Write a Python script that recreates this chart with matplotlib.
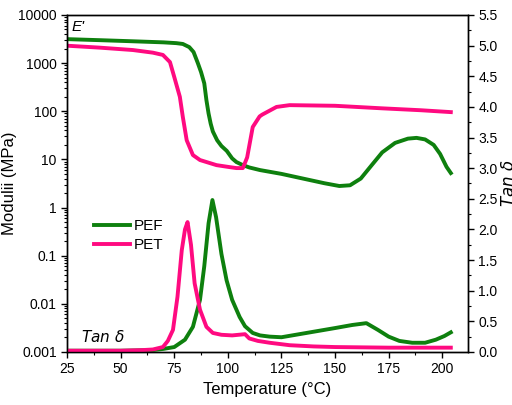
import matplotlib
matplotlib.use("Agg")
import matplotlib.pyplot as plt
from matplotlib.ticker import FuncFormatter, MultipleLocator, LogLocator, NullFormatter

plt.rcParams["font.family"] = ["Liberation Sans", "DejaVu Sans"]

# storage modulus E' (MPa)
pef_E_T = [25, 40, 55, 70, 76, 79, 82, 84, 86, 87.5, 89, 90, 91, 92, 93, 95, 97, 99.5,
           102, 104, 107, 110, 115, 125, 135, 145, 152, 157, 162, 167, 172, 178, 184,
           188, 192, 196, 199, 202, 204]
pef_E = [3150, 3000, 2850, 2700, 2600, 2500, 2150, 1700, 1000, 650, 380, 170, 90, 55,
         38, 25, 19, 15, 10.5, 8.8, 7.6, 6.8, 6.0, 5.0, 4.0, 3.2, 2.8, 2.9, 4.0, 7.5,
         14, 22, 27, 28, 26, 20, 13, 7, 5.2]

pet_E_T = [25, 40, 55.7, 65, 69.7, 73, 75, 77.6, 79, 80.8, 83.7, 87, 94.7, 100, 104,
           107, 109, 111.6, 114.8, 116, 122.7, 128.8, 150, 172, 190, 204]
pet_E = [2300, 2100, 1870, 1650, 1480, 1050, 515, 200, 76, 25, 12.3, 9.7, 7.6, 7.0,
         6.6, 6.6, 11, 47, 78, 85, 123, 134, 130, 115, 105, 96]

# tan delta
pef_tan_T = [25, 50, 65, 70, 75, 80, 83.7, 87, 89, 91, 92.8, 94.5, 97, 99.4, 102,
             105.5, 108, 111.6, 115, 119.5, 125, 135, 150, 158, 164.6, 170, 175, 180,
             186, 192, 197, 201, 204]
pef_tan = [0.02, 0.02, 0.03, 0.05, 0.08, 0.2, 0.41, 0.85, 1.4, 2.1, 2.48, 2.2, 1.6,
           1.17, 0.85, 0.57, 0.42, 0.31, 0.27, 0.25, 0.24, 0.3, 0.39, 0.44, 0.47,
           0.36, 0.25, 0.18, 0.15, 0.15, 0.2, 0.26, 0.32]

pet_tan_T = [25, 50, 60, 65, 69.7, 72, 74.4, 76.5, 78.5, 80, 81.2, 82.8, 84.5, 87, 90,
             93, 97, 102, 105, 108, 110, 114, 119.5, 128.8, 140, 150, 175, 204]
pet_tan = [0.02, 0.02, 0.03, 0.04, 0.08, 0.18, 0.36, 0.9, 1.66, 2.0, 2.12, 1.75, 1.12,
           0.69, 0.41, 0.31, 0.28, 0.27, 0.28, 0.29, 0.22, 0.18, 0.15, 0.11, 0.09,
           0.08, 0.07, 0.07]

GREEN = "#0e800e"
PINK = "#ff0a80"

fig = plt.figure(figsize=(5.12, 4.05), dpi=100)
ax = fig.add_axes([0.131, 0.131, 0.783, 0.832])
ax.plot(pef_E_T, pef_E, color=GREEN, lw=2.8, label="PEF")
ax.plot(pet_E_T, pet_E, color=PINK, lw=2.8, label="PET")
ax.set_yscale("log")
ax.set_ylim(0.001, 10000)
ax.set_xlim(25, 212)
ax.yaxis.set_major_locator(LogLocator(base=10, numticks=10))
ax.yaxis.set_minor_locator(LogLocator(base=10, subs=range(2, 10), numticks=20))
ax.yaxis.set_minor_formatter(NullFormatter())
ax.yaxis.set_major_formatter(FuncFormatter(lambda v, p: f"{v:g}"))
ax.xaxis.set_major_locator(MultipleLocator(25))
ax.xaxis.set_minor_locator(MultipleLocator(12.5))
ax.tick_params(labelsize=10, direction="out", length=4, width=1)
ax.tick_params(which="minor", direction="out", length=2.5, width=0.8)
ax.tick_params(top=False, right=False)
ax.set_xlabel("Temperature (°C)", fontsize=12, labelpad=4)
ax.set_ylabel("Modulii (MPa)", fontsize=12)
ax.yaxis.set_label_coords(-0.125, 0.5)

ax2 = ax.twinx()
ax2.plot(pef_tan_T, pef_tan, color=GREEN, lw=2.8)
ax2.plot(pet_tan_T, pet_tan, color=PINK, lw=2.8)
ax2.set_ylim(0, 5.5)
ax2.yaxis.set_major_locator(MultipleLocator(0.5))
ax2.yaxis.set_minor_locator(MultipleLocator(0.25))
ax2.yaxis.set_major_formatter(FuncFormatter(lambda v, p: f"{v:.1f}"))
ax2.tick_params(labelsize=10, direction="out", length=4, width=1)
ax2.tick_params(which="minor", direction="out", length=2.5, width=0.8)
ax2.set_ylabel(r"$\mathit{Tan}\ \delta$", fontsize=12, rotation=90)
ax2.yaxis.set_label_coords(1.08, 0.5)

for a in (ax, ax2):
    for sp in a.spines.values():
        sp.set_linewidth(1.0)

ax.text(0.01, 0.985, "E'", transform=ax.transAxes, fontsize=11, style="italic",
        ha="left", va="top")
ax.text(0.035, 0.02, r"$\mathit{Tan}\ \delta$", transform=ax.transAxes, fontsize=11,
        ha="left", va="bottom")
ax.legend(loc="upper left", bbox_to_anchor=(0.04, 0.425), frameon=False, fontsize=11,
          handlelength=2.4, handletextpad=0.2, labelspacing=0.3, borderpad=0.2)

fig.savefig("out.png", dpi=100)
